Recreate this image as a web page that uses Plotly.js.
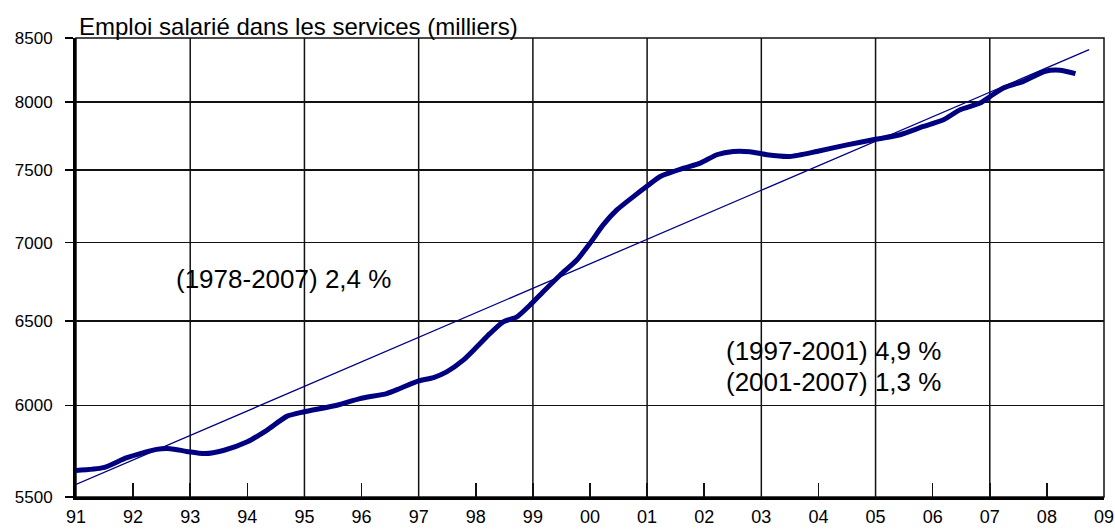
<!DOCTYPE html>
<html>
<head>
<meta charset="utf-8">
<script src="https://cdn.plot.ly/plotly-3.0.1.min.js"></script>
<style>html,body{margin:0;padding:0;background:#fff;}#chart{width:1115px;height:529px;}</style>
</head>
<body>
<div id="chart"></div>
<script>
// Emploi salarié dans les services (milliers)
const years = [1991.00,1991.48,1991.89,1992.41,1992.65,1992.94,1993.26,1993.58,1993.99,1994.34,1994.69,1994.98,
  1995.57,1995.97,1996.44,1996.67,1997.00,1997.26,1997.49,1997.78,1998.02,1998.25,1998.48,1998.72,1998.98,
  1999.18,1999.48,1999.77,2000.00,2000.23,2000.47,2000.76,2000.99,2001.23,2001.64,2001.93,2002.22,2002.51,
  2002.80,2003.10,2003.50,2003.97,2004.50,2005.02,2005.43,2005.84,2006.19,2006.48,2006.83,2007.01,2007.24,
  2007.59,2007.97,2008.23,2008.50];
const emploi = [5640,5655,5709,5754,5758,5743,5731,5748,5794,5859,5937,5962,
  6000,6038,6067,6096,6140,6160,6193,6262,6342,6423,6494,6525,6609,
  6682,6789,6886,6996,7119,7221,7313,7383,7454,7513,7549,7609,7633,
  7631,7609,7597,7633,7681,7723,7755,7816,7866,7941,7992,8042,8107,
  8158,8236,8244,8218];

// Tendance 1978-2007 (2,4 % par an)
const trendYears = [1991.0, 2008.74];
const trendValues = [5566, 8407];

// Axes
const yTicks = [5500, 6000, 6500, 7000, 7500, 8000, 8500];
const yTickLabels = ["5500","6000","6500","7000","7500","8000","8500"];
const xYears = [1991,1992,1993,1994,1995,1996,1997,1998,1999,2000,2001,2002,2003,2004,2005,2006,2007,2008,2009];
const xTickLabels = ["91","92","93","94","95","96","97","98","99","00","01","02","03","04","05","06","07","08","09"];
const xGridYears = [1993,1995,1997,1999,2001,2003,2005,2007];

const yAxisTitle = "Emploi salarié dans les services (milliers)";
const notes = ["(1978-2007) 2,4 %", "(1997-2001) 4,9 %", "(2001-2007) 1,3 %"];

const FONT = "Liberation Sans, Arial, sans-serif";
const NAVY = "#000080";

const traces = [
  {x: trendYears, y: trendValues, type: "scatter", mode: "lines",
   line: {color: NAVY, width: 1.3}, hoverinfo: "skip", showlegend: false},
  {x: years, y: emploi, type: "scatter", mode: "lines",
   line: {color: NAVY, width: 5, shape: "spline", smoothing: 0.6}, showlegend: false}
];

const gridShapes = xGridYears.map(yr => ({
  type: "line", xref: "x", yref: "paper", x0: yr, x1: yr, y0: 0, y1: 1,
  line: {color: "#111", width: 1.5}, layer: "below"
}));

const layout = {
  width: 1115, height: 529,
  margin: {l: 76, r: 11, t: 38, b: 32, pad: 0},
  paper_bgcolor: "#fff", plot_bgcolor: "#fff",
  font: {family: FONT, color: "#000"},
  showlegend: false,
  xaxis: {
    range: [1991, 2009], tickmode: "array", tickvals: xYears, ticktext: xTickLabels,
    ticks: "inside", ticklen: 14, tickwidth: 1.5, tickcolor: "#111",
    showgrid: false, zeroline: false,
    showline: true, linecolor: "#000", linewidth: 3,
    tickfont: {family: FONT, size: 18, color: "#000"}, ticklabelstandoff: 1,
    ticklabeloverflow: "allow"
  },
  yaxis: {
    type: "log", range: [Math.log10(5500), Math.log10(8500)],
    tickmode: "array", tickvals: yTicks, ticktext: yTickLabels,
    ticks: "outside", ticklen: 8, tickwidth: 1.5, tickcolor: "#000",
    showgrid: true, gridcolor: "#111", gridwidth: 1.5, zeroline: false,
    showline: true, linecolor: "#000", linewidth: 3,
    tickfont: {family: FONT, size: 17, color: "#000"}, ticklabelstandoff: 9
  },
  shapes: gridShapes.concat([
    {type: "rect", xref: "paper", yref: "paper", x0: 0, x1: 1, y0: 0, y1: 1,
     line: {color: "#111", width: 1.5}, layer: "below"}
  ]),
  annotations: [
    {text: yAxisTitle, xref: "paper", yref: "paper", x: 0.001, y: 1.026,
     xanchor: "left", yanchor: "middle", showarrow: false,
     font: {family: FONT, size: 24, color: "#000"}},
    {text: notes[0], xref: "paper", yref: "paper", x: 0.2014, y: 0.4739,
     xanchor: "center", yanchor: "middle", showarrow: false,
     font: {family: FONT, size: 26, color: "#000"}},
    {text: notes[1], xref: "paper", yref: "paper", x: 0.7369, y: 0.3170,
     xanchor: "center", yanchor: "middle", showarrow: false,
     font: {family: FONT, size: 26, color: "#000"}},
    {text: notes[2], xref: "paper", yref: "paper", x: 0.7369, y: 0.2516,
     xanchor: "center", yanchor: "middle", showarrow: false,
     font: {family: FONT, size: 26, color: "#000"}}
  ]
};

Plotly.newPlot("chart", traces, layout, {staticPlot: true, displayModeBar: false});
</script>
</body>
</html>
